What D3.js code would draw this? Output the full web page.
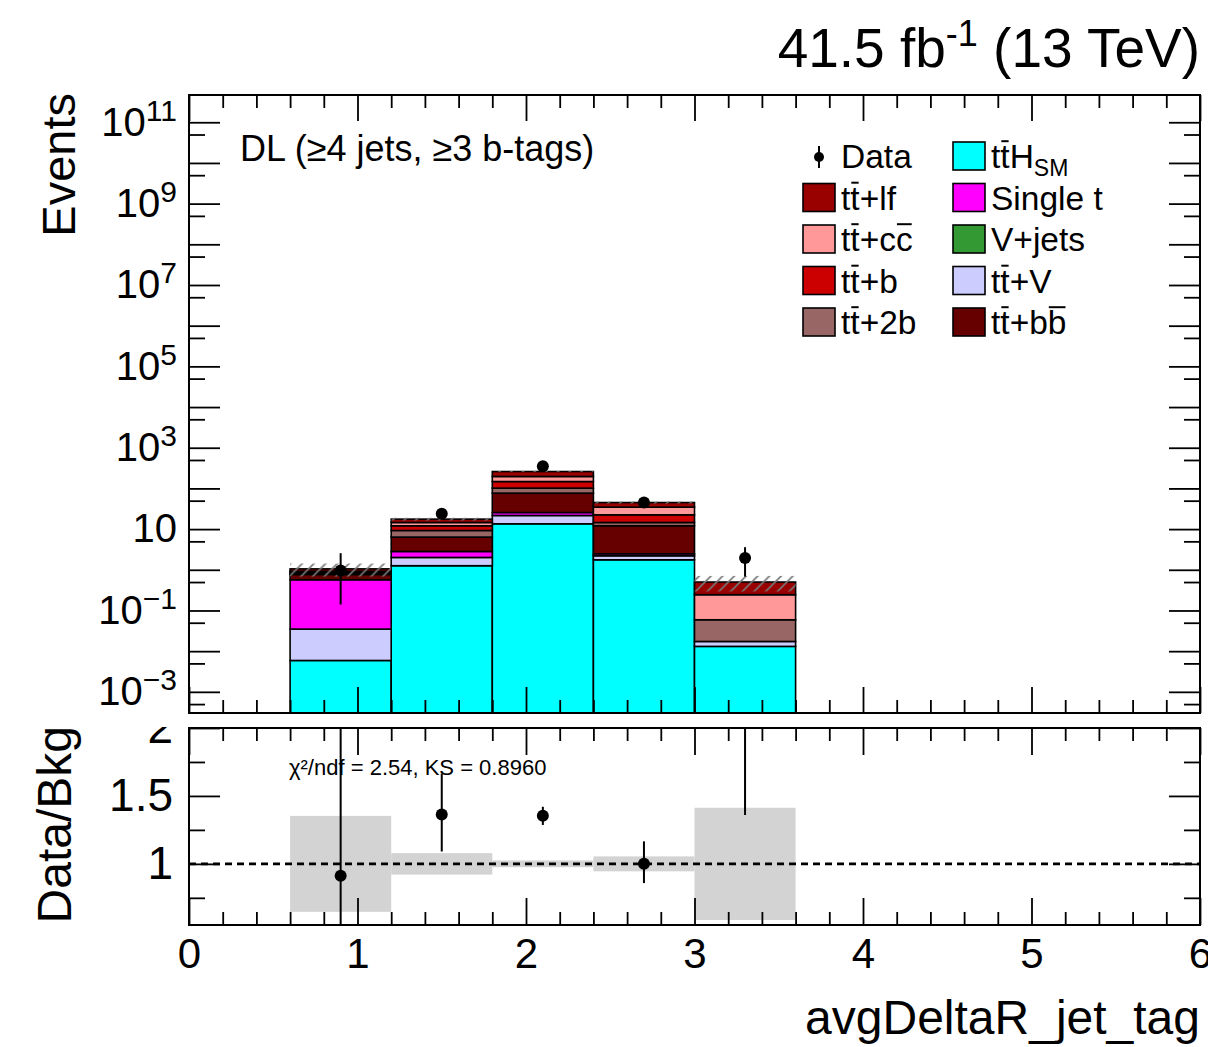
<!DOCTYPE html>
<html>
<head>
<meta charset="utf-8">
<script src="https://cdn.jsdelivr.net/npm/d3@7"></script>
<style>
  body { margin: 0; background: #fff; }
  text { font-family: 'Liberation Sans', Arial, Helvetica, sans-serif; fill: #000; }
</style>
</head>
<body>
<div id="chart"></div>
<script>
// bin edges of avgDeltaR_jet_tag
const binEdges = [0.6, 1.2, 1.8, 2.4, 3.0, 3.6];

// expected events per process (stack order bottom -> top)
const ttH     = [0.0059, 1.26, 13.5, 1.76, 0.0131];
const ttV     = [0.029, 0.75, 8.1, 0.45, 0.0042];
const vJets   = [0, 0, 0, 0, 0];
const singleT = [0.534, 0.81, 4.0, 0.26, 0];
const ttbb    = [0.198, 3.54, 51.0, 9.6, 0];
const tt2b    = [0.054, 2.89, 24.9, 2.48, 0.0418];
const ttb     = [0.045, 2.81, 46.3, 7.9, 0];
const ttcc    = [0.055, 2.48, 48.7, 12.2, 0.185];
const ttlf    = [0.132, 3.06, 63.6, 10.3, 0.256];

// data and uncertainties
const dataVal = [0.96, 24.0, 352, 45.0, 1.94];
const dataLo  = [0.82, 4.8, 17.4, 6.4, 1.26];
const dataHi  = [1.60, 5.3, 17.4, 7.4, 1.65];
const bkgUnc  = [0.353, 0.079, 0.025, 0.055, 0.413]; // relative

// ticks
const xMajor = [0, 1, 2, 3, 4, 5, 6];
const xMinor = d3.range(0, 30).map(i => i * 0.2).filter(v => Math.abs(v - Math.round(v)) > 1e-6);
const yDecades = d3.range(-3, 12);            // 10^-3 .. 10^11
const yHalf = d3.range(-4, 11).map(k => 5 * Math.pow(10, k));
const rMajor = [1, 1.5, 2];
const rMinor = [0.75, 1.25, 1.75];

const W = 1208, H = 1047;
const L = 189, R = 1200;
const upTop = 95, upBot = 713;
const loTop = 728, loBot = 925;

const svg = d3.select('#chart').append('svg').attr('width', W).attr('height', H);

const x = d3.scaleLinear().domain([0, 6]).range([L, R]);
const y = d3.scaleLog().domain([Math.pow(10, -3.52), Math.pow(10, 11.67)]).range([upBot, upTop]);
const yr = d3.scaleLinear().domain([0.55, 2.0]).range([loBot, loTop]);

const processes = [
  { vals: ttH, color: '#00ffff' },
  { vals: ttV, color: '#ccccff' },
  { vals: vJets, color: '#339933' },
  { vals: singleT, color: '#ff00ff' },
  { vals: ttbb, color: '#660000' },
  { vals: tt2b, color: '#996666' },
  { vals: ttb, color: '#cc0000' },
  { vals: ttcc, color: '#ff9999' },
  { vals: ttlf, color: '#990000' }
];

const defs = svg.append('defs');
const pat = defs.append('pattern').attr('id', 'hatch').attr('patternUnits', 'userSpaceOnUse')
  .attr('width', 11.7).attr('height', 11.7);
pat.append('path').attr('d', 'M-1,1 l2,-2 M0,11.7 l11.7,-11.7 M10.7,12.7 l2,-2')
  .attr('stroke', '#777').attr('stroke-width', 1.6);
defs.append('clipPath').attr('id', 'upClip').append('rect')
  .attr('x', L).attr('y', upTop).attr('width', R - L).attr('height', upBot - upTop);
defs.append('clipPath').attr('id', 'loClip').append('rect')
  .attr('x', L).attr('y', loTop).attr('width', R - L).attr('height', loBot - loTop);
defs.append('clipPath').attr('id', 'loAxisClip').append('rect')
  .attr('x', 0).attr('y', loTop - 1).attr('width', W).attr('height', H - loTop);

// ---------- upper pad: stack ----------
const up = svg.append('g').attr('clip-path', 'url(#upClip)');
const totals = binEdges.slice(0, -1).map(() => 0);
processes.forEach(p => {
  p.vals.forEach((v, i) => {
    if (v <= 0) return;
    const y0 = totals[i] > 0 ? y(totals[i]) : upBot + 2;
    totals[i] += v;
    const y1 = y(totals[i]);
    up.append('rect')
      .attr('x', x(binEdges[i])).attr('width', x(binEdges[i + 1]) - x(binEdges[i]))
      .attr('y', y1).attr('height', y0 - y1)
      .attr('fill', p.color).attr('stroke', '#000').attr('stroke-width', 1.6);
  });
});

// uncertainty hatch
totals.forEach((t, i) => {
  up.append('rect')
    .attr('x', x(binEdges[i])).attr('width', x(binEdges[i + 1]) - x(binEdges[i]))
    .attr('y', y(t * (1 + bkgUnc[i]))).attr('height', y(t * (1 - bkgUnc[i])) - y(t * (1 + bkgUnc[i])))
    .attr('fill', 'url(#hatch)');
});

// data
const centers = binEdges.slice(0, -1).map((e, i) => (e + binEdges[i + 1]) / 2);
dataVal.forEach((d, i) => {
  up.append('line').attr('x1', x(centers[i])).attr('x2', x(centers[i]))
    .attr('y1', y(d - dataLo[i])).attr('y2', y(d + dataHi[i]))
    .attr('stroke', '#000').attr('stroke-width', 2);
  up.append('circle').attr('cx', x(centers[i])).attr('cy', y(d)).attr('r', 6).attr('fill', '#000');
});

// ---------- upper pad axes ----------
function styleAxis(g) {
  g.select('.domain').remove();
  g.selectAll('.tick line').attr('stroke', '#000').attr('stroke-width', 1.8);
  g.selectAll('text').attr('font-size', 40).attr('font-family', null);
}
function noLabels(g) { g.selectAll('text').remove(); }

svg.append('g').attr('transform', `translate(0,${upBot})`)
  .call(d3.axisBottom(x).tickValues(xMajor).tickSize(-26)).call(styleAxis).call(noLabels);
svg.append('g').attr('transform', `translate(0,${upBot})`)
  .call(d3.axisBottom(x).tickValues(xMinor).tickSize(-13)).call(styleAxis).call(noLabels);
svg.append('g').attr('transform', `translate(0,${upTop})`)
  .call(d3.axisTop(x).tickValues(xMajor).tickSize(-26)).call(styleAxis).call(noLabels);
svg.append('g').attr('transform', `translate(0,${upTop})`)
  .call(d3.axisTop(x).tickValues(xMinor).tickSize(-13)).call(styleAxis).call(noLabels);

const yLeft = svg.append('g').attr('transform', `translate(${L},0)`)
  .call(d3.axisLeft(y).tickValues(yDecades.map(k => Math.pow(10, k))).tickSize(-31).tickPadding(12))
  .call(styleAxis);
yLeft.selectAll('.tick text').each(function (d) {
  const e = Math.round(Math.log10(d));
  const t = d3.select(this).text(null).attr('font-size', 40);
  if (Math.abs(e) % 2 === 0) return;
  t.append('tspan').text('10');
  if (e !== 1) {
    t.append('tspan').attr('dy', '-0.5em').attr('font-size', 30).text(e < 0 ? '\u2212' + (-e) : String(e));
  }
});
svg.append('g').attr('transform', `translate(${L},0)`)
  .call(d3.axisLeft(y).tickValues(yHalf.filter(v => v > y.domain()[0] && v < y.domain()[1])).tickSize(-16))
  .call(styleAxis).call(noLabels);
svg.append('g').attr('transform', `translate(${R},0)`)
  .call(d3.axisRight(y).tickValues(yDecades.map(k => Math.pow(10, k))).tickSize(-31))
  .call(styleAxis).call(noLabels);
svg.append('g').attr('transform', `translate(${R},0)`)
  .call(d3.axisRight(y).tickValues(yHalf.filter(v => v > y.domain()[0] && v < y.domain()[1])).tickSize(-16))
  .call(styleAxis).call(noLabels);

svg.append('rect').attr('x', L).attr('y', upTop).attr('width', R - L).attr('height', upBot - upTop)
  .attr('fill', 'none').attr('stroke', '#000').attr('stroke-width', 2);

// ---------- lower pad: ratio ----------
const lo = svg.append('g').attr('clip-path', 'url(#loClip)');
totals.forEach((t, i) => {
  lo.append('rect')
    .attr('x', x(binEdges[i])).attr('width', x(binEdges[i + 1]) - x(binEdges[i]))
    .attr('y', yr(1 + bkgUnc[i])).attr('height', yr(1 - bkgUnc[i]) - yr(1 + bkgUnc[i]))
    .attr('fill', '#d3d3d3');
});
lo.append('line').attr('x1', L).attr('x2', R).attr('y1', yr(1)).attr('y2', yr(1))
  .attr('stroke', '#000').attr('stroke-width', 2.8).attr('stroke-dasharray', '7,5');
dataVal.forEach((d, i) => {
  const t = totals[i];
  const cx = x(centers[i]);
  lo.append('line').attr('x1', cx).attr('x2', cx)
    .attr('y1', yr((d - dataLo[i]) / t)).attr('y2', yr((d + dataHi[i]) / t))
    .attr('stroke', '#000').attr('stroke-width', 2);
  lo.append('circle').attr('cx', cx).attr('cy', yr(d / t)).attr('r', 6).attr('fill', '#000');
});

svg.append('g').attr('transform', `translate(0,${loBot})`)
  .call(d3.axisBottom(x).tickValues(xMajor).tickSize(-27).tickPadding(13).tickFormat(d3.format('d')))
  .call(styleAxis).call(g => g.selectAll('text').attr('font-size', 42));
svg.append('g').attr('transform', `translate(0,${loBot})`)
  .call(d3.axisBottom(x).tickValues(xMinor).tickSize(-13)).call(styleAxis).call(noLabels);
svg.append('g').attr('transform', `translate(0,${loTop})`)
  .call(d3.axisTop(x).tickValues(xMajor).tickSize(-27)).call(styleAxis).call(noLabels);
svg.append('g').attr('transform', `translate(0,${loTop})`)
  .call(d3.axisTop(x).tickValues(xMinor).tickSize(-13)).call(styleAxis).call(noLabels);

svg.append('g').attr('clip-path', 'url(#loAxisClip)')
  .append('g').attr('transform', `translate(${L},0)`)
  .call(d3.axisLeft(yr).tickValues(rMajor).tickSize(-31).tickPadding(16).tickFormat(d => String(d)))
  .call(styleAxis).call(g => g.selectAll('text').attr('font-size', 46));
svg.append('g').attr('transform', `translate(${L},0)`)
  .call(d3.axisLeft(yr).tickValues(rMinor).tickSize(-16)).call(styleAxis).call(noLabels);
svg.append('g').attr('transform', `translate(${R},0)`)
  .call(d3.axisRight(yr).tickValues(rMajor).tickSize(-31)).call(styleAxis).call(noLabels);
svg.append('g').attr('transform', `translate(${R},0)`)
  .call(d3.axisRight(yr).tickValues(rMinor).tickSize(-16)).call(styleAxis).call(noLabels);

svg.append('rect').attr('x', L).attr('y', loTop).attr('width', R - L).attr('height', loBot - loTop)
  .attr('fill', 'none').attr('stroke', '#000').attr('stroke-width', 2);

svg.append('text').attr('x', 289).attr('y', 775).attr('font-size', 22)
  .text('\u03c7\u00b2/ndf = 2.54, KS = 0.8960');

// ---------- titles ----------
const title = svg.append('text').attr('x', R).attr('y', 67).attr('text-anchor', 'end').attr('font-size', 55);
title.append('tspan').text('41.5 fb');
title.append('tspan').attr('dy', -21).attr('font-size', 36).text('-1');
title.append('tspan').attr('dy', 21).text(' (13 TeV)');

svg.append('text').attr('transform', `translate(75,${upTop - 2}) rotate(-90)`)
  .attr('text-anchor', 'end').attr('font-size', 47).text('Events');
svg.append('text').attr('transform', `translate(71,${loTop - 2}) rotate(-90)`)
  .attr('text-anchor', 'end').attr('font-size', 48).text('Data/Bkg');
svg.append('text').attr('x', R).attr('y', 1034).attr('text-anchor', 'end').attr('font-size', 48)
  .text('avgDeltaR_jet_tag');

svg.append('text').attr('x', 240).attr('y', 161).attr('font-size', 36)
  .text('DL (\u22654 jets, \u22653 b-tags)');

// ---------- legend ----------
const legendItems = [
  { kind: 'data', segs: [{ t: 'Data' }] },
  { color: '#00ffff', segs: [{ t: 't' }, { t: 't', bar: 1 }, { t: 'H' }, { t: 'SM', sub: 1 }] },
  { color: '#990000', segs: [{ t: 't' }, { t: 't', bar: 1 }, { t: '+lf' }] },
  { color: '#ff00ff', segs: [{ t: 'Single t' }] },
  { color: '#ff9999', segs: [{ t: 't' }, { t: 't', bar: 1 }, { t: '+c' }, { t: 'c', bar: 1 }] },
  { color: '#339933', segs: [{ t: 'V+jets' }] },
  { color: '#cc0000', segs: [{ t: 't' }, { t: 't', bar: 1 }, { t: '+b' }] },
  { color: '#ccccff', segs: [{ t: 't' }, { t: 't', bar: 1 }, { t: '+V' }] },
  { color: '#996666', segs: [{ t: 't' }, { t: 't', bar: 1 }, { t: '+2b' }] },
  { color: '#660000', segs: [{ t: 't' }, { t: 't', bar: 1 }, { t: '+b' }, { t: 'b', bar: 1 }] }
];
const leg = svg.append('g');
const fs = 33.5;
legendItems.forEach((it, k) => {
  const col = k % 2, row = Math.floor(k / 2);
  const bx = col === 0 ? 803 : 953;
  const cy = 156 + row * 41.5;
  if (it.kind === 'data') {
    leg.append('line').attr('x1', bx + 16).attr('x2', bx + 16).attr('y1', cy - 10).attr('y2', cy + 12)
      .attr('stroke', '#000').attr('stroke-width', 2);
    leg.append('circle').attr('cx', bx + 16).attr('cy', cy + 1).attr('r', 5).attr('fill', '#000');
  } else {
    leg.append('rect').attr('x', bx).attr('y', cy - 14).attr('width', 32).attr('height', 28)
      .attr('fill', it.color).attr('stroke', '#000').attr('stroke-width', 1.6);
  }
  const tx = bx + 38, ty = cy + 12;
  const t = leg.append('text').attr('x', tx).attr('y', ty).attr('font-size', fs);
  it.segs.forEach(s => {
    const sp = t.append('tspan').text(s.t);
    if (s.sub) sp.attr('font-size', 23).attr('dy', 8);
  });
  let idx = 0;
  it.segs.forEach(s => {
    if (s.bar) {
      const node = t.node();
      const x0 = node.getStartPositionOfChar(idx).x;
      const x1 = node.getEndPositionOfChar(idx + s.t.length - 1).x;
      leg.append('line').attr('x1', x0 + 1).attr('x2', x1 - 1)
        .attr('y1', ty - fs * 0.8).attr('y2', ty - fs * 0.8)
        .attr('stroke', '#000').attr('stroke-width', 2);
    }
    idx += s.t.length;
  });
});
</script>
</body>
</html>
